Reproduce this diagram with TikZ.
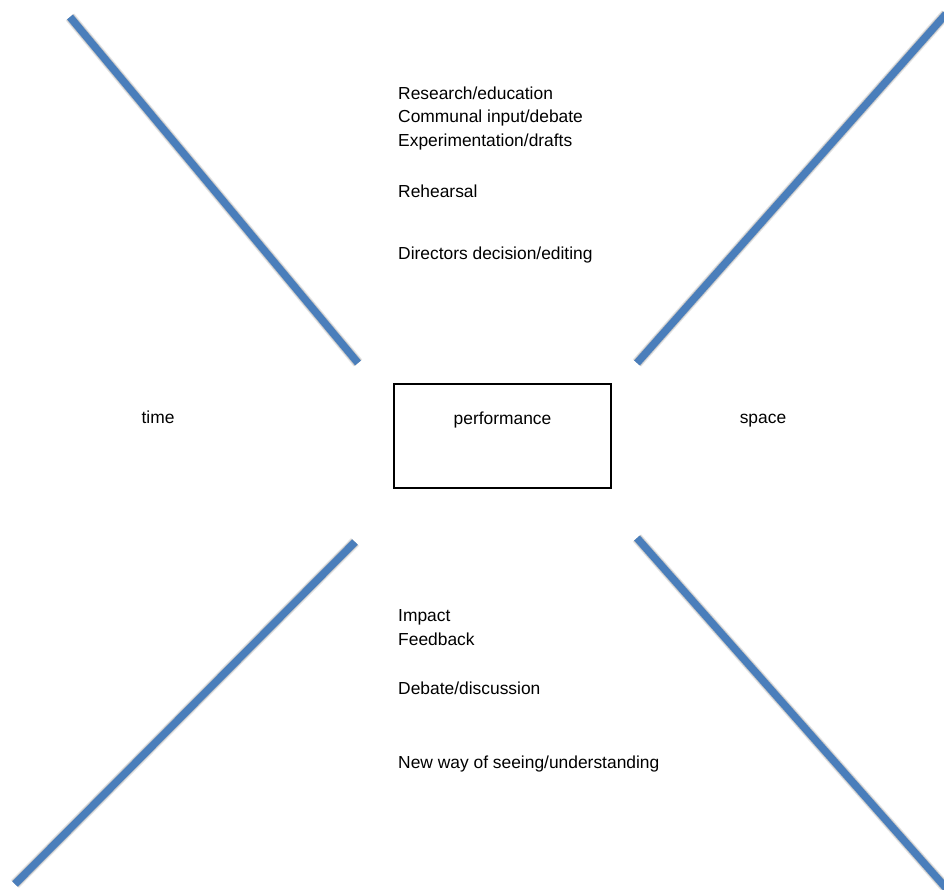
\documentclass[tikz,border=0pt]{standalone}
\usepackage{fontspec}
\setmainfont{Liberation Sans}
\begin{document}
\begin{tikzpicture}[x=1pt,y=-1pt,
  arm/.style={line width=7.5pt,draw={rgb,255:red,74;green,126;blue,187}},
  armshadow/.style={line width=9pt,draw=black,opacity=0.14},
  lbl/.style={anchor=base west,inner sep=0pt,font=\fontsize{17.4}{23}\selectfont},
  clbl/.style={anchor=base,inner sep=0pt,font=\fontsize{17.4}{23}\selectfont},
  boxst/.style={draw=black,line width=1.6pt,minimum width=217pt,minimum height=104pt,inner sep=0pt}]
\useasboundingbox (0,0) rectangle (944,890);
% arm end points
\coordinate (tla) at (70,17);   \coordinate (tlb) at (358,363);
\coordinate (tra) at (946,14);  \coordinate (trb) at (637,363);
\coordinate (bla) at (355,542); \coordinate (blb) at (15,884);
\coordinate (bra) at (637,538); \coordinate (brb) at (946,888);
% shadows
\begin{scope}[shift={(4,4)}]
\draw[armshadow,line width=11pt,opacity=0.10] (tla) -- (tlb);
\draw[armshadow,line width=11pt,opacity=0.10] (tra) -- (trb);
\draw[armshadow,line width=11pt,opacity=0.10] (bla) -- (blb);
\draw[armshadow,line width=11pt,opacity=0.10] (bra) -- (brb);
\end{scope}
\begin{scope}[shift={(3,3)}]
\draw[armshadow] (tla) -- (tlb);
\draw[armshadow] (tra) -- (trb);
\draw[armshadow] (bla) -- (blb);
\draw[armshadow] (bra) -- (brb);
\end{scope}
% arms
\draw[arm] (tla) -- (tlb);
\draw[arm] (tra) -- (trb);
\draw[arm] (bla) -- (blb);
\draw[arm] (bra) -- (brb);
% central box
\node[boxst] (perf) at (502.5,436) {};
\node[clbl] (perftxt) at (502.5,424) {performance};
\node[clbl] (time) at (158,423) {time};
\node[clbl] (space) at (763,423) {space};
% top texts
\node[lbl] (t1) at (398,100) {Research/education};
\node[lbl] (t2) at (398,123) {Communal input/debate};
\node[lbl] (t3) at (398,147) {Experimentation/drafts};
\node[lbl] (t4) at (398,198) {Rehearsal};
\node[lbl] (t5) at (398,260) {Directors decision/editing};
% bottom texts
\node[lbl] (b1) at (398,621) {Impact};
\node[lbl] (b2) at (398,645) {Feedback};
\node[lbl] (b3) at (398,694) {Debate/discussion};
\node[lbl] (b4) at (398,768) {New way of seeing/understanding};
\end{tikzpicture}
\end{document}
